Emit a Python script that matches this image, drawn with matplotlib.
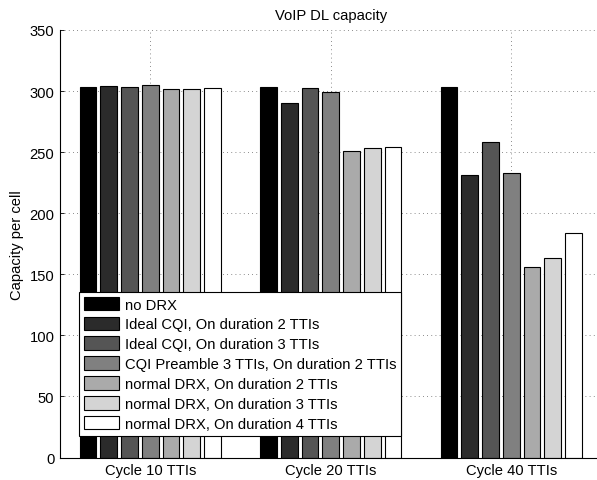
import numpy as np
import matplotlib
matplotlib.use('Agg')
import matplotlib.pyplot as plt

plt.rcParams['font.family'] = ['Liberation Sans', 'DejaVu Sans']
plt.rcParams['font.size'] = 10.6

'''Data'''
groups = ['Cycle 10 TTIs', 'Cycle 20 TTIs', 'Cycle 40 TTIs']
labels = ['no DRX',
          'Ideal CQI, On duration 2 TTIs',
          'Ideal CQI, On duration 3 TTIs',
          'CQI Preamble 3 TTIs, On duration 2 TTIs',
          'normal DRX, On duration 2 TTIs',
          'normal DRX, On duration 3 TTIs',
          'normal DRX, On duration 4 TTIs']
no_drx = [303.0, 303.0, 303.0]
ideal_2 = [303.9, 290.0, 231.3]
ideal_3 = [303.3, 302.5, 258.3]
preamble_2 = [304.7, 298.9, 233.0]
normal_2 = [301.6, 250.7, 155.6]
normal_3 = [301.6, 253.2, 163.7]
normal_4 = [302.2, 254.0, 184.2]
series = [no_drx, ideal_2, ideal_3, preamble_2, normal_2, normal_3, normal_4]

# gray colormap, 7 levels
grays = [str(v) for v in np.linspace(0, 1, 7)]

fig = plt.figure(figsize=(5.97, 4.81), dpi=100)
ax = fig.add_axes([60/597, 22.5/481, 541.5/597, 427.5/481])

x = np.arange(1, 4)
step = 0.115
w = 0.092
for i, s in enumerate(series):
    ax.bar(x + (i - 3)*step, s, w, color=grays[i], edgecolor='black',
           linewidth=0.8, label=labels[i], zorder=2)

ax.set_xlim(0.5, 3.5)
ax.set_ylim(0, 350)
ax.set_yticks(np.arange(0, 351, 50))
ax.set_xticks(x)
ax.set_xticklabels(groups)
ax.grid(True, linestyle=(0, (1, 4)), color='0.4', linewidth=0.6)
ax.set_axisbelow(True)
ax.spines['top'].set_visible(False)
ax.spines['right'].set_visible(False)
ax.tick_params(direction='in', length=3, width=0.6, pad=4)
ax.set_ylabel('Capacity per cell')
ax.set_title('VoIP DL capacity', fontsize=10.6, pad=8)

leg = ax.legend(loc='upper left', bbox_to_anchor=(19/541.5, 166/427.5),
                borderaxespad=0, fancybox=False, framealpha=1,
                edgecolor='black', handlelength=2.4, handleheight=1.05,
                labelspacing=0.34, handletextpad=0.35, borderpad=0.35)
leg.get_frame().set_linewidth(0.8)

plt.savefig('out.png', dpi=100)
